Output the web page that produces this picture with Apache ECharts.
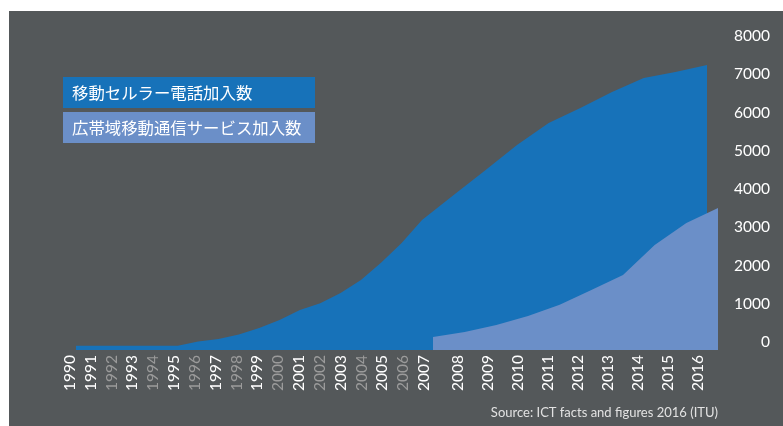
<!DOCTYPE html>
<html>
<head>
<meta charset="utf-8">
<script src="https://cdn.jsdelivr.net/npm/echarts@6/dist/echarts.min.js"></script>
<style>
html,body{margin:0;padding:0;background:#ffffff;}
#chart{width:783px;height:426px;}
</style>
</head>
<body>
<div id="chart"></div>
<script>
// ---- data ----
const seriesNames = ['移動セルラー電話加入数', '広帯域移動通信サービス加入数'];
const yearsAll = ['1990','1991','1992','1993','1994','1995','1996','1997','1998','1999','2000','2001','2002','2003','2004','2005','2006','2007','2008','2009','2010','2011','2012','2013','2014','2015','2016'];
// mobile-cellular subscriptions (millions), 1990-2016
const cellular = [110,110,110,110,110,112,222,288,405,575,784,1046,1220,1490,1830,2290,2800,3400,4050,4700,5360,5935,6330,6745,7110,7270,7450];
// active mobile-broadband subscriptions (millions), 2007-2016
const broadbandYears = ['2007','2008','2009','2010','2011','2012','2013','2014','2015','2016'];
const broadband = [340,470,655,890,1180,1570,1960,2745,3320,3710];
const yTicks = [0,1000,2000,3000,4000,5000,6000,7000,8000];
const sourceText = 'Source: ICT facts and figures 2016 (ITU)';

// ---- derived ----
const splitIdx = yearsAll.indexOf('2007');
const yearsA = yearsAll.slice(0, splitIdx + 1);
const yearsB = yearsAll.slice(splitIdx);
const cellA = cellular.slice(0, splitIdx + 1);
const cellB = cellular.slice(splitIdx);
const labelYearsA = yearsAll.slice(0, splitIdx + 1);
const labelYearsB = yearsAll.slice(splitIdx + 1);

const BG = '#54585a';
const BLUE = '#1772b9';
const LIGHT = '#6b8fc8';
const WHITE = '#ffffff';
const GRAY = '#9b9b9b';
const yMin = yTicks[0], yMax = yTicks[yTicks.length - 1], yStep = yTicks[1] - yTicks[0];

const gTop = 44, gHeight = 306;
const grids = [
  {left: 76, width: 346, top: gTop, height: gHeight},
  {left: 422, width: 285, top: gTop, height: gHeight},
  {left: 433, width: 285, top: gTop, height: gHeight},
  {left: 70, width: 354, top: gTop, height: gHeight},
  {left: 458, width: 240, top: gTop, height: gHeight}
];

function hiddenX(gi, data) {
  return {type: 'category', gridIndex: gi, data: data, boundaryGap: false, show: false};
}
function hiddenY(gi) {
  return {type: 'value', gridIndex: gi, min: yMin, max: yMax, interval: yStep, show: false};
}
function labelX(gi, data, dimRule) {
  return {
    type: 'category', gridIndex: gi, data: data, boundaryGap: false, position: 'bottom',
    axisLine: {show: false}, axisTick: {show: false}, splitLine: {show: false},
    axisLabel: {
      interval: 0, rotate: 90, margin: 5,
      fontFamily: 'Lato', fontSize: 15.5,
      color: function (v, i) { return dimRule(v, i) ? GRAY : WHITE; }
    }
  };
}

const chart = echarts.init(document.getElementById('chart'), null, {renderer: 'canvas'});
chart.setOption({
  backgroundColor: '#ffffff',
  animation: false,
  grid: grids,
  xAxis: [
    hiddenX(0, yearsA),
    hiddenX(1, yearsB),
    hiddenX(2, broadbandYears),
    labelX(3, labelYearsA, function (v, i) { return i >= 2 && i % 2 === 0 && i < labelYearsA.length - 1; }),
    labelX(4, labelYearsB, function () { return false; })
  ],
  yAxis: [
    hiddenY(0),
    hiddenY(1),
    {
      type: 'value', gridIndex: 2, min: yMin, max: yMax, interval: yStep, position: 'right',
      axisLine: {show: false}, axisTick: {show: false}, splitLine: {show: false},
      axisLabel: {
        margin: 52, align: 'right', verticalAlign: 'bottom',
        color: WHITE, fontFamily: 'Lato', fontSize: 15.5,
        formatter: function (v) { return String(v); }
      }
    },
    hiddenY(3),
    hiddenY(4)
  ],
  graphic: [
    {type: 'rect', z: -10, shape: {x: 9, y: 11, width: 774, height: 415}, style: {fill: BG}},
    {type: 'rect', z: 10, shape: {x: 63, y: 77, width: 252, height: 31}, style: {fill: BLUE}},
    {type: 'rect', z: 10, shape: {x: 63, y: 112, width: 252, height: 31}, style: {fill: LIGHT}},
    {type: 'text', z: 11, x: 72, y: 93, style: {text: seriesNames[0], fill: WHITE, font: '16.4px "Noto Sans CJK JP"', verticalAlign: 'middle'}},
    {type: 'text', z: 11, x: 72, y: 128, style: {text: seriesNames[1], fill: WHITE, font: '16.4px "Noto Sans CJK JP"', verticalAlign: 'middle'}},
    {type: 'text', z: 11, x: 718, y: 413, style: {text: sourceText, fill: '#e2e2e2', font: '13px Lato', align: 'right', verticalAlign: 'middle'}}
  ],
  series: [
    {
      name: seriesNames[0], type: 'line', xAxisIndex: 0, yAxisIndex: 0, data: cellA,
      symbol: 'none', lineStyle: {width: 0, opacity: 0}, areaStyle: {color: BLUE, opacity: 1}, z: 2
    },
    {
      name: seriesNames[0], type: 'line', xAxisIndex: 1, yAxisIndex: 1, data: cellB,
      symbol: 'none', lineStyle: {width: 0, opacity: 0}, areaStyle: {color: BLUE, opacity: 1}, z: 2
    },
    {
      name: seriesNames[1], type: 'line', xAxisIndex: 2, yAxisIndex: 2, data: broadband,
      symbol: 'none', lineStyle: {width: 0, opacity: 0}, areaStyle: {color: LIGHT, opacity: 1}, z: 3
    }
  ]
});
</script>
</body>
</html>
